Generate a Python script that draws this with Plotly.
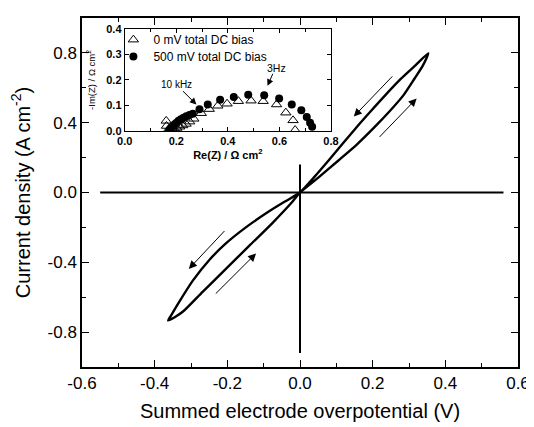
import plotly.graph_objects as go

# ---- main loop data (summed electrode overpotential V, current density A/cm2)
loop_v = [0.0, 0.052, 0.105, 0.157, 0.203, 0.246, 0.285, 0.315, 0.338, 0.353,
          0.317, 0.278, 0.235, 0.194, 0.154, 0.116, 0.078, 0.039, 0.0,
          -0.040, -0.085, -0.149, -0.204, -0.249, -0.295, -0.332, -0.355, -0.363,
          -0.345, -0.322, -0.268, -0.204, -0.140, -0.076, -0.021, 0.0]
loop_i = [0.0, 0.088, 0.182, 0.276, 0.370, 0.464, 0.558, 0.652, 0.727, 0.798,
          0.727, 0.652, 0.558, 0.464, 0.370, 0.276, 0.182, 0.088, 0.0,
          -0.050, -0.108, -0.200, -0.292, -0.385, -0.505, -0.625, -0.705, -0.734,
          -0.715, -0.682, -0.569, -0.438, -0.306, -0.175, -0.053, 0.0]

hline_x = [-0.55, 0.56]
hline_y = [0.0, 0.0]
vline_x = [0.0, 0.0]
vline_y = [-0.92, 0.16]

# sweep-direction arrows (tail -> head)
arrow_tail_x = [0.258, 0.215, -0.204, -0.236]
arrow_tail_y = [0.674, 0.310, -0.212, -0.588]
arrow_head_x = [0.148, 0.321, -0.306, -0.121]
arrow_head_y = [0.435, 0.539, -0.438, -0.349]

# ---- inset impedance data
tri_re = [0.161, 0.162, 0.168, 0.175, 0.183, 0.192, 0.202, 0.213, 0.225, 0.238, 0.252, 0.268,
          0.297, 0.328, 0.361, 0.397, 0.441, 0.490, 0.537, 0.589, 0.625, 0.653, 0.661]
tri_im = [0.040, 0.020, 0.004, 0.002, 0.004, 0.008, 0.012, 0.017, 0.022, 0.028, 0.037, 0.048,
          0.070, 0.086, 0.099, 0.107, 0.117, 0.119, 0.117, 0.104, 0.072, 0.042, 0.004]
cir_re = [0.172, 0.176, 0.181, 0.187, 0.194, 0.201, 0.209, 0.218, 0.228, 0.239, 0.251, 0.264,
          0.290, 0.322, 0.370, 0.423, 0.479, 0.541, 0.599, 0.648, 0.685, 0.706, 0.719, 0.727]
cir_im = [0.002, 0.008, 0.014, 0.020, 0.027, 0.033, 0.040, 0.046, 0.052, 0.058, 0.063, 0.068,
          0.085, 0.104, 0.123, 0.133, 0.142, 0.140, 0.127, 0.104, 0.081, 0.055, 0.033, 0.017]

x_ticks = [-0.6, -0.4, -0.2, 0.0, 0.2, 0.4, 0.6]
x_ticktext = ["-0.6", "-0.4", "-0.2", "0.0", "0.2", "0.4", "0.6"]
y_ticks = [-0.8, -0.4, 0.0, 0.4, 0.8]
y_ticktext = ["-0.8", "-0.4", "0.0", "0.4", "0.8"]
inset_x_ticks = [0.0, 0.2, 0.4, 0.6, 0.8]
inset_y_ticks = [0.0, 0.1, 0.2, 0.3, 0.4]

FONT = "Liberation Sans, Arial, sans-serif"

fig = go.Figure()
fig.add_trace(go.Scatter(x=hline_x, y=hline_y, mode="lines", line=dict(color="black", width=2),
                         showlegend=False, hoverinfo="skip"))
fig.add_trace(go.Scatter(x=vline_x, y=vline_y, mode="lines", line=dict(color="black", width=2),
                         showlegend=False, hoverinfo="skip"))
fig.add_trace(go.Scatter(x=loop_v, y=loop_i, mode="lines",
                         line=dict(color="black", width=2.4, shape="spline", smoothing=0.6),
                         showlegend=False))

fig.add_trace(go.Scatter(x=tri_re, y=tri_im, mode="markers", xaxis="x2", yaxis="y2",
                         name="0 mV total DC bias", legend="legend",
                         marker=dict(symbol="triangle-up-open", size=9, color="black",
                                     line=dict(width=1))))
fig.add_trace(go.Scatter(x=cir_re, y=cir_im, mode="markers", xaxis="x2", yaxis="y2",
                         name="500 mV total DC bias", legend="legend2",
                         marker=dict(symbol="circle", size=8, color="black")))

annotations = []
for tx, ty, hx, hy in zip(arrow_tail_x, arrow_tail_y, arrow_head_x, arrow_head_y):
    annotations.append(dict(x=hx, y=hy, ax=tx, ay=ty, xref="x", yref="y", axref="x", ayref="y",
                            text="", showarrow=True, arrowhead=2, arrowsize=1.6, arrowwidth=1,
                            arrowcolor="black"))

annotations.append(dict(x=0.278, y=0.104, ax=0.220, ay=0.162, xref="x2", yref="y2",
                        axref="x2", ayref="y2", text="", showarrow=True, arrowhead=2,
                        arrowsize=1.3, arrowwidth=1, arrowcolor="black"))
annotations.append(dict(x=0.201, y=0.181, xref="x2", yref="y2", text="10 kHz", showarrow=False,
                        font=dict(family=FONT, size=10, color="black")))
annotations.append(dict(x=0.554, y=0.177, ax=0.577, ay=0.230, xref="x2", yref="y2",
                        axref="x2", ayref="y2", text="", showarrow=True, arrowhead=2,
                        arrowsize=1.3, arrowwidth=1, arrowcolor="black"))
annotations.append(dict(x=0.587, y=0.248, xref="x2", yref="y2", text="3Hz", showarrow=False,
                        font=dict(family=FONT, size=10.5, color="black")))

legend_style = dict(xanchor="left", yanchor="middle", bgcolor="rgba(0,0,0,0)",
                    font=dict(family=FONT, size=12, color="black"), itemwidth=30,
                    borderwidth=0)

fig.update_layout(
    width=526, height=419,
    margin=dict(l=74, r=14, t=4, b=60),
    paper_bgcolor="white", plot_bgcolor="white",
    font=dict(family=FONT, color="black"),
    annotations=annotations,
    showlegend=True,
    legend=dict(x=0.072, y=0.938, **legend_style),
    legend2=dict(x=0.072, y=0.890, **legend_style),
    xaxis=dict(range=[-0.6, 0.6], tickvals=x_ticks, ticktext=x_ticktext,
               ticks="inside", ticklen=7, tickwidth=1, tickcolor="black",
               showline=True, linecolor="black", linewidth=1.5, mirror="ticks",
               showgrid=False, zeroline=False,
               minor=dict(ticks="inside", ticklen=4, dtick=0.1, tick0=0, tickcolor="black",
                          showgrid=False),
               tickfont=dict(size=17),
               title=dict(text="Summed electrode overpotential (V)", font=dict(size=20),
                          standoff=12)),
    yaxis=dict(range=[-1.0, 1.0], tickvals=y_ticks, ticktext=y_ticktext,
               ticks="inside", ticklen=7, tickwidth=1, tickcolor="black",
               showline=True, linecolor="black", linewidth=1.5, mirror="ticks",
               showgrid=False, zeroline=False,
               minor=dict(ticks="inside", ticklen=4, dtick=0.2, tick0=0, tickcolor="black",
                          showgrid=False),
               tickfont=dict(size=17),
               title=dict(text="Current density (A cm<sup>-2</sup>)", font=dict(size=20),
                          standoff=12)),
    xaxis2=dict(domain=[0.098, 0.571], anchor="y2", range=[0, 0.8], tickvals=inset_x_ticks,
                tickformat=".1f", ticks="inside", ticklen=4, tickcolor="black",
                showline=True, linecolor="black", linewidth=1, mirror="ticks",
                showgrid=False, zeroline=False,
                minor=dict(ticks="inside", ticklen=3, dtick=0.1, tick0=0, tickcolor="black"),
                tickfont=dict(size=11, weight="bold"),
                title=dict(text="Re(Z) / Ω cm<sup>2</sup>", font=dict(size=11, weight="bold"),
                           standoff=4)),
    yaxis2=dict(domain=[0.676, 0.969], anchor="x2", range=[0, 0.4], tickvals=inset_y_ticks,
                tickformat=".1f", ticks="inside", ticklen=4, tickcolor="black",
                showline=True, linecolor="black", linewidth=1, mirror="ticks",
                showgrid=False, zeroline=False,
                tickfont=dict(size=11, weight="bold"),
                title=dict(text="-Im(Z) / Ω cm<sup>2</sup>", font=dict(size=9.5),
                           standoff=8)),
)

fig.write_html("out.html")
